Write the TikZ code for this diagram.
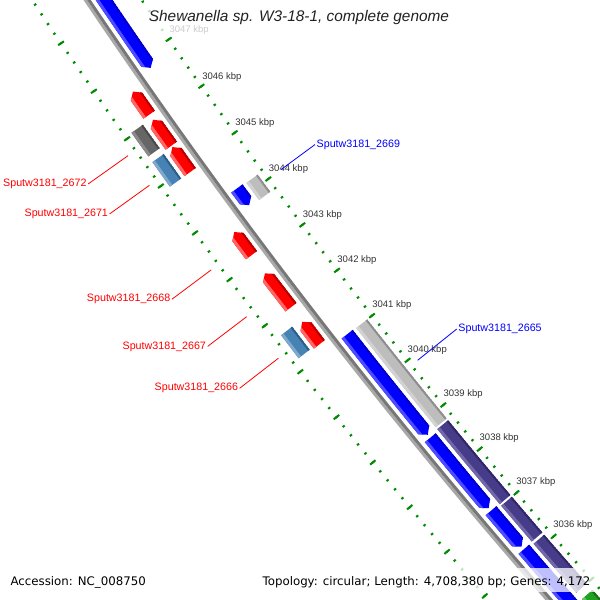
\documentclass[tikz,border=0pt]{standalone}
\usepackage{fontspec}
\setmainfont{Liberation Sans}
\newfontfamily\legendfont{DejaVu Sans}

\definecolor{rulergreen}{HTML}{008C00}
\definecolor{kbpgray}{HTML}{333333}
\definecolor{titlegray}{HTML}{222222}
\definecolor{backlt}{HTML}{A8A8A8}
\definecolor{backdk}{HTML}{777777}
\definecolor{cdsblue}{HTML}{0000FF}
\definecolor{cdsbluelt}{HTML}{4D4DFF}
\definecolor{cdsbluedk}{HTML}{0000C8}
\definecolor{greymid}{HTML}{BDBDBD}
\definecolor{greylt}{HTML}{D2D2D2}
\definecolor{greydk}{HTML}{8E8E8E}
\definecolor{purplemid}{HTML}{463C8A}
\definecolor{purplelt}{HTML}{7068A8}
\definecolor{purpledk}{HTML}{2F2866}
\definecolor{redmid}{HTML}{FF0000}
\definecolor{redlt}{HTML}{FF6666}
\definecolor{reddk}{HTML}{B80000}
\definecolor{darkmid}{HTML}{666666}
\definecolor{darklt}{HTML}{8A8A8A}
\definecolor{darkdk}{HTML}{4A4A4A}
\definecolor{steelmid}{HTML}{4682B4}
\definecolor{steellt}{HTML}{80A8CC}
\definecolor{steeldk}{HTML}{2E5E88}
\definecolor{greenmid}{HTML}{22A022}
\definecolor{greenlt}{HTML}{66C266}
\definecolor{greendk}{HTML}{147014}

% angle on the map of a genome position in kbp
\pgfmathdeclarefunction{kang}{1}{\pgfmathparse{214.69+(3047-(#1))*0.5591}}

% outline of a flat feature (angles and radii already set)
\newcommand\boxpath{(\angA:\radI) arc[start angle=\angA,end angle=\angB,radius=\radI]
      -- (\angB:\radO) arc[start angle=\angB,end angle=\angA,radius=\radO] -- cycle}
% outline of a feature with an arrow tip
\newcommand\arrowpath{(\angA:\radI) arc[start angle=\angA,end angle=\angC,radius=\radI]
      -- (\angB:\radM) -- (\angC:\radO) arc[start angle=\angC,end angle=\angA,radius=\radO] -- cycle}

% shading strips on both edges
\newcommand\featstrips[2]{%
  \fill[#1] (\angA:\radL) arc[start angle=\angA,end angle=\angB,radius=\radL]
    -- (\angB:\radO) arc[start angle=\angB,end angle=\angA,radius=\radO] -- cycle;
  \fill[#2] (\angA:\radI) arc[start angle=\angA,end angle=\angB,radius=\radI]
    -- (\angB:\radD) arc[start angle=\angB,end angle=\angA,radius=\radD] -- cycle;}

\newcommand\featradii[1]{%
  \pgfmathsetmacro\radM{#1}%
  \pgfmathsetmacro\radI{#1-7}\pgfmathsetmacro\radO{#1+7}%
  \pgfmathsetmacro\radL{#1+4}\pgfmathsetmacro\radD{#1-5}}

% flat feature: from, to, radius, main, light, dark
\newcommand\featbox[6]{%
  \pgfmathsetmacro\angA{kang(#1)}%
  \pgfmathsetmacro\angB{kang(#2)}%
  \featradii{#3}%
  \fill[#4] \boxpath;
  \begin{scope}
    \clip \boxpath;
    \featstrips{#5}{#6}
  \end{scope}}

% gene with arrow: tail, tip, radius, main, light, dark
\newcommand\featarrow[6]{%
  \pgfmathsetmacro\angA{kang(#1)}%
  \pgfmathsetmacro\angB{kang(#2)}%
  \pgfmathsetmacro\angC{\angB-0.06*sign(\angB-\angA)}%
  \featradii{#3}%
  \fill[#4] \arrowpath;
  \begin{scope}
    \clip \arrowpath;
    \featstrips{#5}{#6}
  \end{scope}}

\begin{document}
\begin{tikzpicture}[x=1pt,y=1pt,
    minortick/.style={draw=rulergreen,line width=2pt},
    majortick/.style={draw=rulergreen,line width=2pt},
    kbplabel/.style={text=kbpgray,font=\fontsize{9.5}{11}\selectfont,inner sep=0pt},
    redlabel/.style={text=red,font=\fontsize{10.7}{12}\selectfont,inner sep=1.5pt},
    bluelabel/.style={text=blue,font=\fontsize{10.7}{12}\selectfont,inner sep=1.5pt},
    redline/.style={draw=red,line width=0.8pt},
    blueline/.style={draw=blue,line width=0.8pt},
    fadebox/.style={fill=white,fill opacity=0.75},
    titletext/.style={font=\fontsize{15.4}{18}\selectfont\itshape,text=titlegray},
    legendtext/.style={font=\legendfont\fontsize{11.8}{14}\selectfont,text=black}]
  \useasboundingbox (0,0) rectangle (600,600);
  \clip (0,0) rectangle (600,600);
  \fill[white] (0,0) rectangle (600,600);

  \begin{scope}[shift={(4986,3895)}]
    % rulers, inside and outside
    \foreach \i in {0,...,80}{
      \pgfmathsetmacro\angA{kang(3033.6+0.2*\i)}
      \draw[minortick] (\angA:5857.7) -- (\angA:5860.3);
      \draw[minortick] (\angA:5948.7) -- (\angA:5951.3);
    }
    \foreach \kb in {3034,...,3049}{
      \pgfmathsetmacro\angA{kang(\kb)}
      \draw[majortick] (\angA:5855.5) -- (\angA:5862.5);
      \draw[majortick] (\angA:5946.5) -- (\angA:5953.5);
    }
    \foreach \kb in {3036,...,3047}{
      \pgfmathsetmacro\angA{kang(\kb)+0.04}
      \node[kbplabel] (k\kb) at (\angA:5837) {\kb\ kbp};
    }

    % backbone
    \pgfmathsetmacro\angA{kang(3050)}
    \pgfmathsetmacro\angB{kang(3032)}
    \fill[backlt] (\angA:5904) arc[start angle=\angA,end angle=\angB,radius=5904]
      -- (\angB:5907) arc[start angle=\angB,end angle=\angA,radius=5907] -- cycle;
    \fill[backdk] (\angA:5901) arc[start angle=\angA,end angle=\angB,radius=5901]
      -- (\angB:5904) arc[start angle=\angB,end angle=\angA,radius=5904] -- cycle;

    % inner slots
    \featarrow{3050}{3046.77}{5890}{cdsblue}{cdsbluelt}{cdsbluedk}
    \featarrow{3044.19}{3043.83}{5890}{cdsblue}{cdsbluelt}{cdsbluedk}
    \featarrow{3041.01}{3038.77}{5890}{cdsblue}{cdsbluelt}{cdsbluedk}
    \featarrow{3038.70}{3037.11}{5890}{cdsblue}{cdsbluelt}{cdsbluedk}
    \featarrow{3037.05}{3036.23}{5890}{cdsblue}{cdsbluelt}{cdsbluedk}
    \featarrow{3036.17}{3032}{5890}{cdsblue}{cdsbluelt}{cdsbluedk}
    \featbox{3044.17}{3043.80}{5872}{greymid}{greylt}{greydk}
    \featbox{3041.00}{3038.78}{5872}{greymid}{greylt}{greydk}
    \featbox{3038.74}{3037.04}{5872}{purplemid}{purplelt}{purpledk}
    \featbox{3037.00}{3036.18}{5872}{purplemid}{purplelt}{purpledk}
    \featbox{3036.13}{3035.00}{5872}{purplemid}{purplelt}{purpledk}
    \featbox{3034.85}{3032}{5872}{greenmid}{greenlt}{greendk}

    % outer slots
    \featarrow{3046.12}{3046.61}{5918}{redmid}{redlt}{reddk}
    \featarrow{3045.46}{3046.01}{5918}{redmid}{redlt}{reddk}
    \featarrow{3044.90}{3045.43}{5918}{redmid}{redlt}{reddk}
    \featarrow{3043.11}{3043.61}{5918}{redmid}{redlt}{reddk}
    \featarrow{3041.98}{3042.72}{5918}{redmid}{redlt}{reddk}
    \featarrow{3041.17}{3041.66}{5918}{redmid}{redlt}{reddk}
    \featbox{3045.54}{3046.04}{5936}{darkmid}{darklt}{darkdk}
    \featbox{3044.90}{3045.42}{5936}{steelmid}{steellt}{steeldk}
    \featbox{3041.20}{3041.70}{5936}{steelmid}{steellt}{steeldk}

    % gene labels
    \foreach \gpos/\gid in {3045.79/2672,3045.16/2671,3043.36/2668,3042.35/2667,3041.45/2666}{
      \pgfmathsetmacro\angA{kang(\gpos)+0.02}
      \coordinate (g\gid) at (\angA:5959);
      \node[redlabel,anchor=east] (l\gid) at (\angA:6008) {Sputw3181\_\gid};
      \draw[redline] (l\gid.east) -- (g\gid);
    }
    \foreach \gpos/\gid/\grad in {3044.0/2669/5843,3039.89/2665/5851}{
      \pgfmathsetmacro\angA{kang(\gpos)}
      \coordinate (g\gid) at (\angA:\grad);
      \node[bluelabel,anchor=west] (l\gid) at (\angA:5801) {Sputw3181\_\gid};
      \draw[blueline] (l\gid.west) -- (g\gid);
    }
  \end{scope}

  % title and legend
  \fill[fadebox] (144,565) rectangle (455,599);
  \node[titletext] (title) at (299,582) {Shewanella sp. W3-18-1, complete genome};
  \fill[fadebox] (258,8) rectangle (597,32);
  \node[legendtext,anchor=west] (accession) at (7,18) {Accession: NC\_008750};
  \node[legendtext,anchor=east] (topology) at (594,18) {Topology: circular; Length: 4,708,380 bp; Genes: 4,172};
\end{tikzpicture}
\end{document}
